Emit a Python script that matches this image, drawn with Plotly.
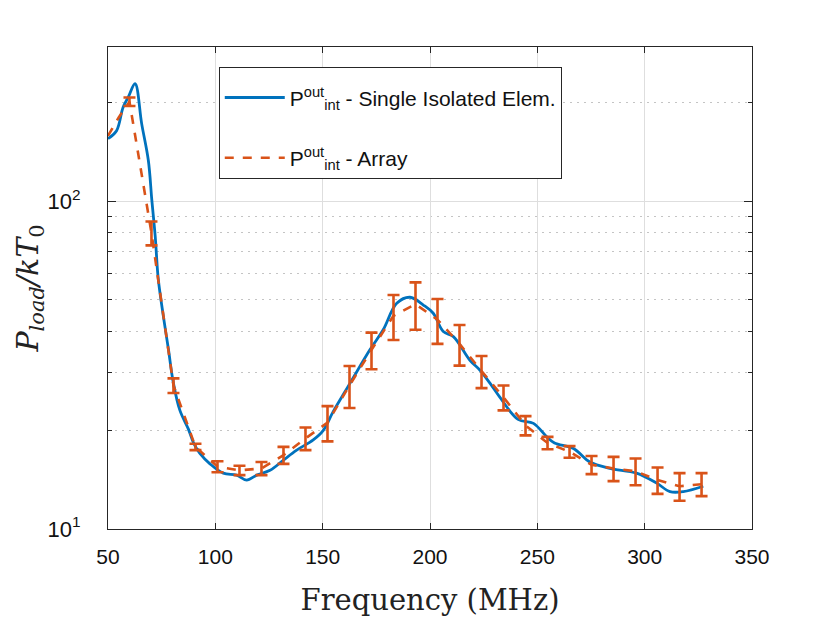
import plotly.graph_objects as go

# Single isolated element (blue solid curve)
single_freq = [50, 54, 57, 59.5, 62.6, 65.7, 68.8, 70.4, 72, 73.4, 75.8, 78.1, 80.4, 83.5,
               87.4, 90, 92.8, 97.5, 103.7, 109.9, 114.6, 119.3, 125.5, 131.6, 137.9, 145.6,
               150.3, 154.9, 162.7, 172.0, 178.2, 184.5, 190.7, 196.9, 201.5, 206.2, 210.9,
               218.6, 223.3, 228.0, 232.6, 241.0, 248.2, 254.4, 258.0, 266.8, 274.5, 283.8,
               296.2, 305.6, 311.8, 318.0, 327.3]
single_val = [155, 164, 193, 208, 228, 172, 133, 101, 78, 58, 44.5, 35.5, 28, 23,
              20.2, 18.2, 17.0, 15.8, 14.8, 14.6, 14.1, 14.6, 15.1, 16.2, 17.4, 18.7,
              20.0, 22.8, 27.8, 35.2, 40.5, 48.8, 50.9, 48.2, 45.5, 40.0, 38.6,
              32.7, 30.5, 27.8, 25.2, 21.6, 21.0, 19.1, 18.3, 17.6, 16.0, 15.3,
              14.8, 13.8, 13.0, 13.0, 13.5]

# Array (orange dashed curve with error bars)
array_freq = [50, 55, 60, 70.25, 80.5, 90.75, 101, 111.25, 121.5, 131.75, 142, 152.25,
              162.5, 172.75, 183, 193.25, 203.5, 213.75, 224, 234.25, 244.5, 254.75,
              265, 275.25, 285.5, 295.75, 306, 316.25, 326.5]
array_val = [158, 180, 201, 80, 27.4, 17.8, 15.5, 15.1, 15.3, 16.8, 18.9, 21.1,
             27.4, 35.2, 44.7, 48.5, 43.5, 36.7, 30.3, 25.2, 20.7, 18.3,
             17.2, 15.7, 15.3, 15.0, 14.1, 13.5, 13.7]
array_err = [0, 0, 6, 6.7, 1.4, 0.4, 0.6, 0.5, 0.7, 1.0, 1.5, 2.6,
             4.0, 4.5, 7.0, 8.0, 6.8, 5.2, 3.4, 2.2, 1.4, 0.8,
             0.7, 1.0, 1.3, 1.4, 1.3, 1.3, 1.1]

x_ticks = [50, 100, 150, 200, 250, 300, 350]
y_ticks = [10, 100]
y_ticktext = ["10<sup>1</sup>", "10<sup>2</sup>"]
y_minor = [20, 30, 40, 50, 60, 70, 80, 90, 200]

BLUE = "#0072BD"
ORANGE = "#D95319"
COND = "Liberation Sans, Arial, sans-serif"
SERIF = "DejaVu Serif, Liberation Serif, serif"

bar_x = [f for f, e in zip(array_freq, array_err) if e > 0]
bar_y = [v for v, e in zip(array_val, array_err) if e > 0]
bar_e = [e for e in array_err if e > 0]

fig = go.Figure()
fig.add_trace(go.Scatter(
    x=single_freq, y=single_val, mode="lines", line=dict(color=BLUE, width=2.8),
    line_shape="spline", legendgroup="a",
    name="P<sup>out</sup><sub>int</sub> - Single Isolated Elem."))
fig.add_trace(go.Scatter(
    x=array_freq, y=array_val, mode="lines",
    line=dict(color=ORANGE, width=2.6, dash="dash"), legendgroup="b",
    name="P<sup>out</sup><sub>int</sub> - Array"))
fig.add_trace(go.Scatter(
    x=bar_x, y=bar_y, mode="markers", marker=dict(size=1, color="rgba(0,0,0,0)"),
    error_y=dict(type="data", array=bar_e, visible=True, color=ORANGE,
                 thickness=2.6, width=6),
    showlegend=False, hoverinfo="skip"))

# page body has an 8px margin: figure is shifted by 8px, so size/margins compensate
fig.update_layout(
    width=822, height=615,
    margin=dict(l=100, r=78, t=39, b=94, autoexpand=False),
    paper_bgcolor="white", plot_bgcolor="white",
    showlegend=True,
    legend=dict(x=0.172, y=0.958, xanchor="left", yanchor="top",
                bgcolor="white", bordercolor="#262626", borderwidth=1,
                font=dict(family=COND, size=21, color="#111111"),
                title=dict(text=" ", font=dict(size=7)),
                itemwidth=60, tracegroupgap=30, valign="middle"),
    xaxis=dict(
        range=[50, 350], tickvals=x_ticks, ticks="inside", ticklen=6,
        tickcolor="#262626", showline=True, linecolor="#262626", linewidth=1,
        mirror="ticks", showgrid=True, gridcolor="#dedede", gridwidth=1,
        zeroline=False, ticklabelstandoff=9, automargin=False,
        tickfont=dict(family=COND, size=21, color="#111111"),
        title=dict(text="Frequency (MHz)", font=dict(family=SERIF, size=29, color="#222222"),
                   standoff=22)),
    yaxis=dict(
        type="log", range=[1, 2.47], tickvals=y_ticks, ticktext=y_ticktext,
        ticks="inside", ticklen=8, tickcolor="#262626",
        showline=True, linecolor="#262626", linewidth=1, mirror="ticks",
        showgrid=True, gridcolor="#dedede", gridwidth=1, zeroline=False,
        ticklabelstandoff=22, automargin=False,
        minor=dict(tickvals=y_minor, ticks="inside", ticklen=4, tickcolor="#262626",
                   showgrid=True, gridcolor="#c4c4c4", griddash="2px,5px", gridwidth=1),
        tickfont=dict(family=COND, size=22, color="#111111"),
        title=dict(text="<i>P</i><sub><i>load</i></sub><i>/kT</i><sub>0</sub>",
                   font=dict(family=SERIF, size=30, color="#222222"), standoff=0)),
)

fig.write_html("out.html")
